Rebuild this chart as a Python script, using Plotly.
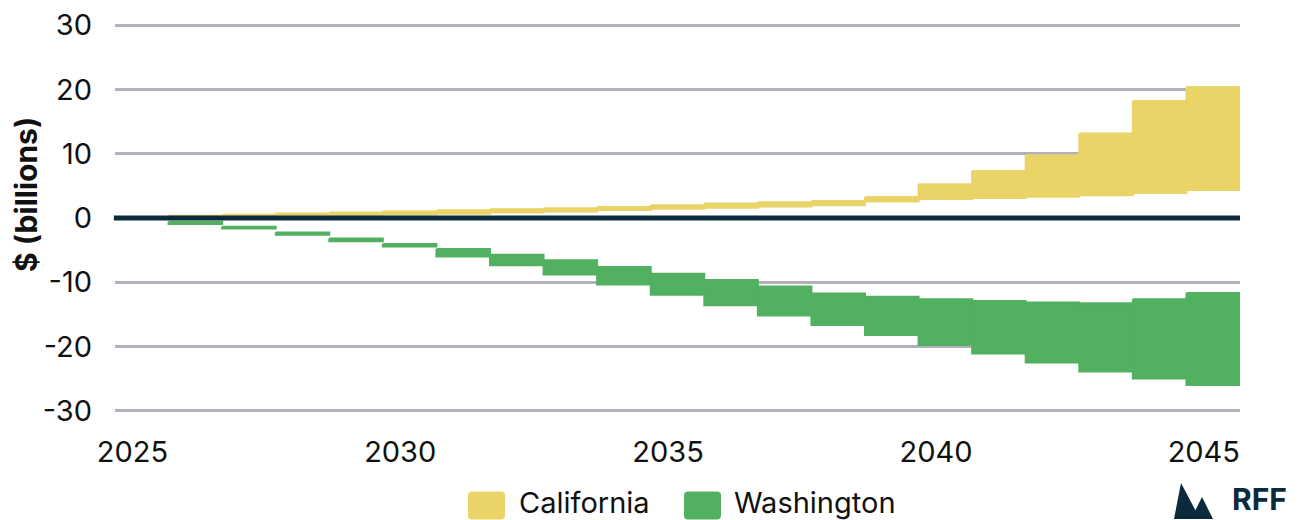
import numpy as np
import plotly.graph_objects as go

years = list(range(2026, 2046))
ca_low = [0.1, 0.25, 0.35, 0.45, 0.55, 0.65, 0.85, 1.0, 1.25, 1.45,
          1.6, 1.8, 2.0, 2.55, 2.95, 3.1, 3.3, 3.55, 3.9, 4.35]
ca_high = [0.35, 0.5, 0.7, 0.85, 1.0, 1.2, 1.35, 1.5, 1.7, 2.0,
           2.25, 2.45, 2.65, 3.25, 5.25, 7.3, 9.75, 13.15, 18.2, 20.35]
wa_high = [-0.6, -1.35, -2.25, -3.2, -4.05, -4.8, -5.7, -6.55, -7.6, -8.65,
           -9.65, -10.65, -11.75, -12.25, -12.65, -12.9, -13.15, -13.25, -12.65, -11.65]
wa_low = [-0.95, -1.65, -2.6, -3.6, -4.45, -6.0, -7.35, -8.8, -10.35, -11.95,
          -13.55, -15.15, -16.65, -18.2, -19.75, -21.05, -22.45, -23.85, -24.95, -25.95]

y_ticks = [-30, -20, -10, 0, 10, 20, 30]
x_ticks = [2025, 2030, 2035, 2040, 2045]
series_names = ["California", "Washington"]

YELLOW = "#EAD367"
GREEN = "#52B161"
NAVY = "#0B2A3C"
GRID = "#B2B1BA"
TXT = "#111111"
FONT = "Inter"

OFF = 8  # page body margin
W, H = 1300 - OFF, 520 - OFF
# plot area in window pixels
L, R, T, B = 115, 1240, 24, 412
Y_RANGE = [-30.16, 30.16]


def band_path(yrs, lo, hi):
    xs, ys = [], []
    for yr, a, b in zip(yrs, lo, hi):
        x0, x1 = yr - 0.5, yr + 0.5
        xs += [x0, x1, x1, x0, x0, None]
        ys += [b, b, a, a, b, None]
    return xs, ys


fig = go.Figure()
for name, lo, hi, col in [(series_names[0], ca_low, ca_high, YELLOW),
                          (series_names[1], wa_low, wa_high, GREEN)]:
    xs, ys = band_path(years, lo, hi)
    fig.add_trace(go.Scatter(x=xs, y=ys, mode="lines", fill="toself",
                             fillcolor=col, line=dict(color=col, width=2),
                             name=name, showlegend=False, hoverinfo="skip"))


def px_to_paper(px, py):
    return (px - L) / (R - L), (B - py) / (B - T)


def rounded_rect(x0, y0, x1, y1, r):
    def P(x, y):
        a, b = px_to_paper(x, y)
        return f"{a:.5f},{b:.5f}"
    d = f"M {P(x0 + r, y0)} L {P(x1 - r, y0)} Q {P(x1, y0)} {P(x1, y0 + r)} "
    d += f"L {P(x1, y1 - r)} Q {P(x1, y1)} {P(x1 - r, y1)} "
    d += f"L {P(x0 + r, y1)} Q {P(x0, y1)} {P(x0, y1 - r)} "
    d += f"L {P(x0, y0 + r)} Q {P(x0, y0)} {P(x0 + r, y0)} Z"
    return d


def poly(points):
    parts = []
    for i, (x, y) in enumerate(points):
        a, b = px_to_paper(x, y)
        parts.append(("M " if i == 0 else "L ") + f"{a:.5f},{b:.5f}")
    return " ".join(parts) + " Z"


shapes = []
# zero line above bands
shapes.append(dict(type="line", xref="paper", yref="y", x0=-0.001, x1=1, y0=0, y1=0,
                   line=dict(color=NAVY, width=5), layer="above"))
# legend swatches
legend_items = [(468, 505, 517, series_names[0], YELLOW),
                (684, 721, 732, series_names[1], GREEN)]
annotations = []
for sx0, sx1, tx, label, col in legend_items:
    shapes.append(dict(type="path", xref="paper", yref="paper",
                       path=rounded_rect(sx0, 491.5, sx1, 519.5, 4),
                       fillcolor=col, line=dict(width=0)))
    ax, ay = px_to_paper(tx, 502)
    annotations.append(dict(x=ax, y=ay, xref="paper", yref="paper", text=label,
                            showarrow=False, xanchor="left", yanchor="middle",
                            font=dict(family=FONT, size=29, color=TXT)))

# logo
shapes.append(dict(type="path", xref="paper", yref="paper",
                   path=poly([(1174, 519), (1181, 483), (1200, 519)]),
                   fillcolor=NAVY, line=dict(width=0)))
shapes.append(dict(type="path", xref="paper", yref="paper",
                   path=poly([(1191, 519), (1202, 497), (1213, 519)]),
                   fillcolor=NAVY, line=dict(width=0)))
lx, ly = px_to_paper(1230, 499)
annotations.append(dict(x=lx, y=ly, xref="paper", yref="paper", text="<b>RFF</b>",
                        showarrow=False, xanchor="left", yanchor="middle",
                        font=dict(family=FONT, size=30, color=NAVY)))

# y axis title
tx, ty = px_to_paper(26, 195)
annotations.append(dict(x=tx, y=ty, xref="paper", yref="paper", text="<b>$ (billions)</b>",
                        showarrow=False, textangle=-90, xanchor="center", yanchor="middle",
                        font=dict(family=FONT, size=30, color=TXT)))

fig.update_layout(
    width=W, height=H,
    margin=dict(l=L - OFF, r=W - (R - OFF), t=T - OFF, b=H - (B - OFF), pad=0),
    plot_bgcolor="white", paper_bgcolor="white",
    showlegend=False,
    shapes=shapes, annotations=annotations,
    font=dict(family=FONT, size=29, color=TXT),
)
fig.update_xaxes(range=[2024.5, 2045.5], tickvals=x_ticks,
                 ticktext=[f"{v}\u2007" for v in x_ticks],
                 showgrid=False, zeroline=False, showline=False, ticks="",
                 automargin=False,
                 ticklabelstandoff=20, ticklabeloverflow="allow",
                 tickfont=dict(family=FONT, size=29, color=TXT))
fig.update_yaxes(range=Y_RANGE, tickvals=y_ticks, ticktext=[str(v) for v in y_ticks],
                 showgrid=True, gridcolor=GRID, gridwidth=3, zeroline=False,
                 automargin=False,
                 showline=False, ticks="", ticklabelstandoff=22, ticklabeloverflow="allow",
                 tickfont=dict(family=FONT, size=29, color=TXT))

fig.write_html("out.html")
